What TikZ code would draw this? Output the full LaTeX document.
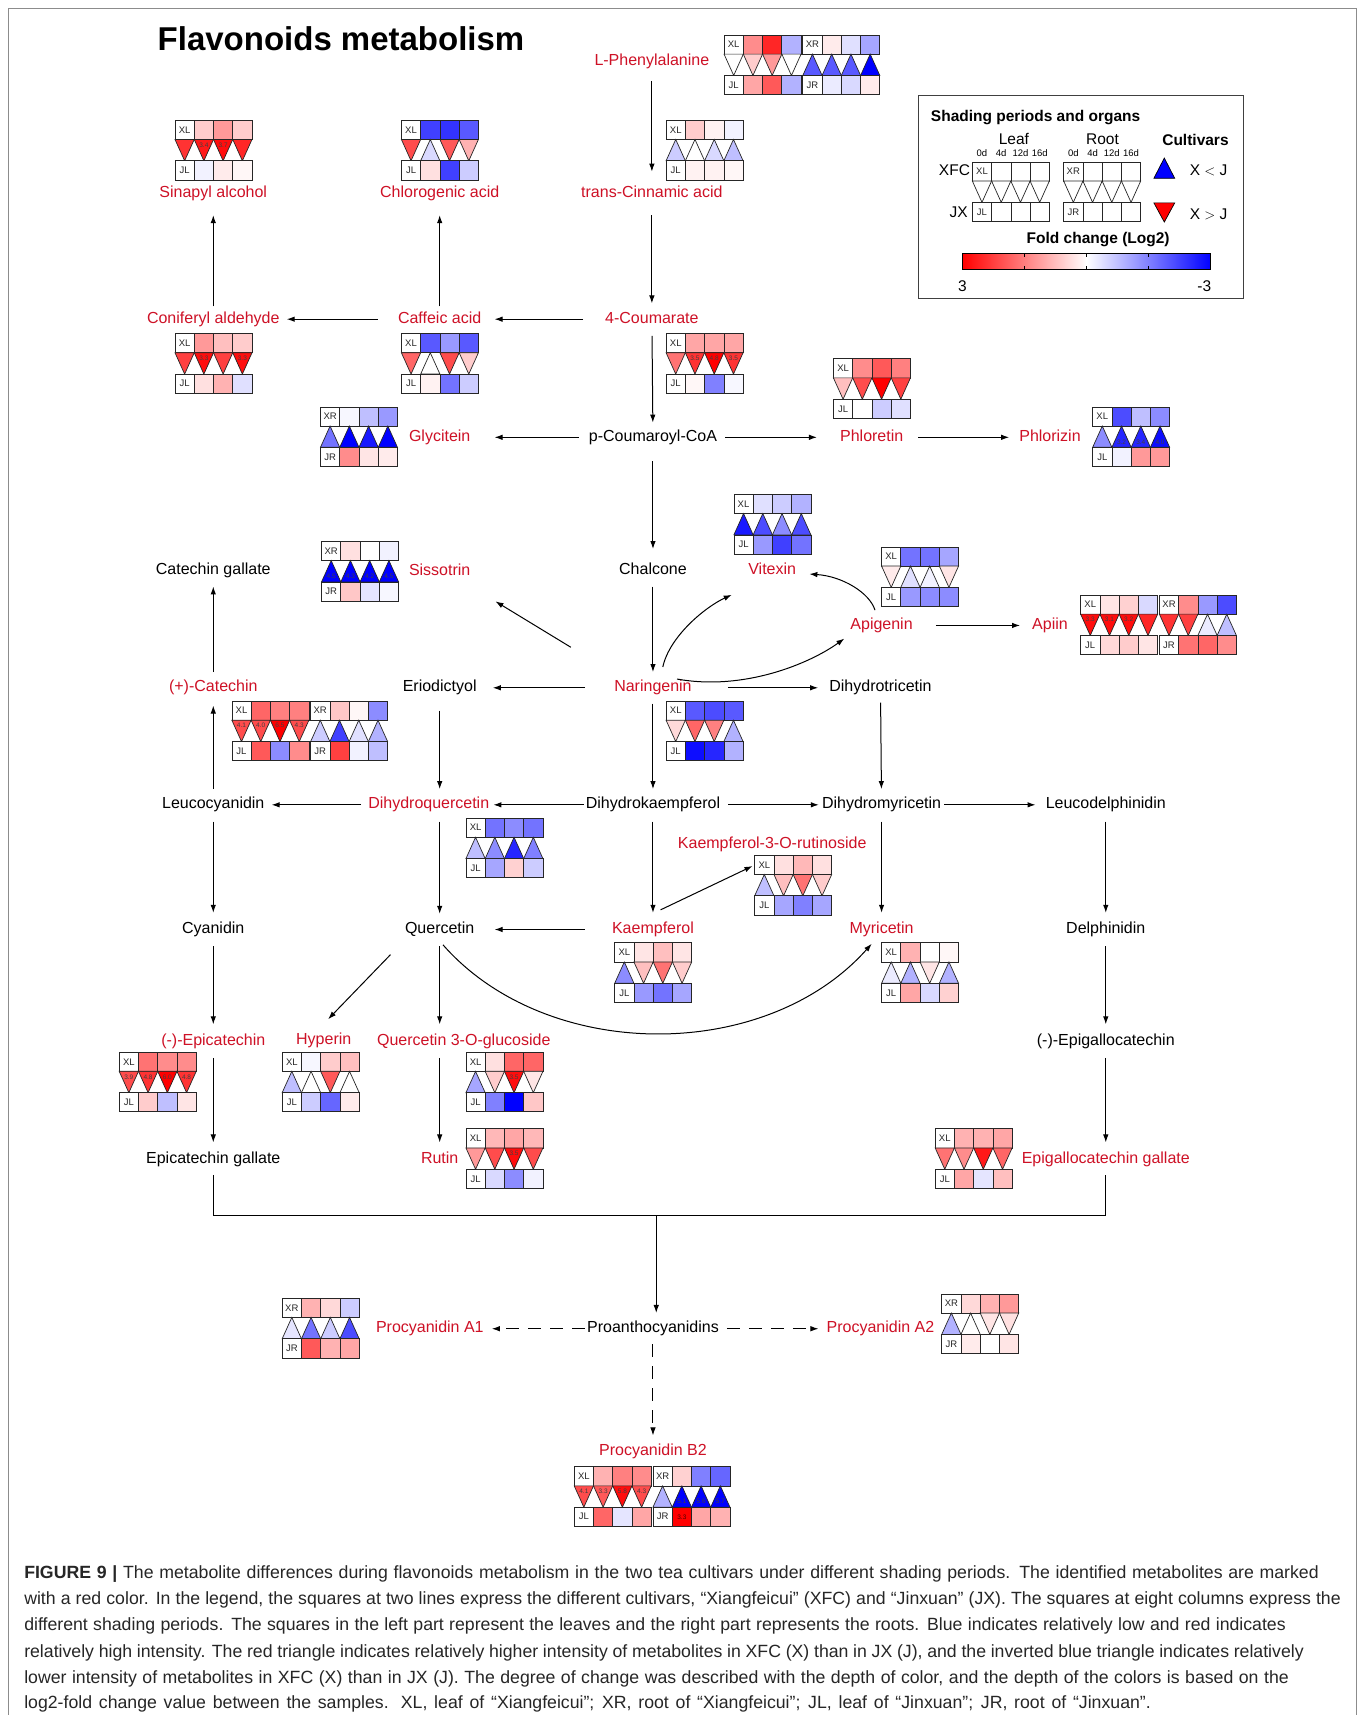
\documentclass[tikz,border=0pt]{standalone}
\usepackage{fontspec}
\setmainfont{Liberation Sans}
\usetikzlibrary{arrows.meta,calc}
\definecolor{labred}{RGB}{206,17,38}
\tikzset{
 cellst/.style={draw=black!85, line width=0.7pt},
 hlab/.style={font=\fontsize{9.5}{9.5}\selectfont, inner sep=0pt, text=black!85},
 hnum/.style={font=\fontsize{6.5}{6.5}\selectfont, inner sep=0pt, text=black!75},
 met/.style={font=\fontsize{16}{16}\selectfont, inner sep=0pt, text height=11.7pt, text depth=3.4pt, yshift=-2pt},
 idm/.style={met, text=labred},
 arr/.style={draw=black, line width=1pt, -{Latex[length=8pt,width=5.5pt]}, shorten <=9pt, shorten >=9pt},
 dsh/.style={dash pattern=on 13pt off 9pt},
 capt/.style={font=\fontsize{17.7}{17.7}\selectfont, inner sep=0pt, text=black!85},
 legt/.style={font=\fontsize{15.5}{15.5}\selectfont, inner sep=0pt},
}
% #1 position, #2 top label, #3 bottom label, #4 top colours, #5 triangles d|u/colour/number, #6 bottom colours
\newcommand\hmap[6]{%
\begin{scope}[shift={#1}]
 \draw[cellst,fill=white] (0,0) rectangle (17.6,17.5);
 \node[hlab] (hlt) at (8.8,8.75) {#2};
 \foreach \hc [count=\hi] in {#4} {\filldraw[cellst,fill=\hc] (\hi*17.6,0) rectangle ++(17.6,17.5);}
 \foreach \hd/\hc/\hn [count=\hi from 0] in {#5} {%
   \if u\hd
     \filldraw[cellst,fill=\hc] (\hi*17.6,37) -- ++(17.6,0) -- ++(-8.8,-19.5) -- cycle;
     \node[hnum] (hnm) at (\hi*17.6+8.8,32) {\hn};
   \else
     \filldraw[cellst,fill=\hc] (\hi*17.6,17.5) -- ++(17.6,0) -- ++(-8.8,19.5) -- cycle;
     \node[hnum] (hnm) at (\hi*17.6+8.8,22.5) {\hn};
   \fi}
 \draw[cellst,fill=white] (0,37) rectangle (17.6,54.5);
 \node[hlab] (hlb) at (8.8,45.75) {#3};
 \foreach \hc [count=\hi] in {#6} {\filldraw[cellst,fill=\hc] (\hi*17.6,37) rectangle ++(17.6,17.5);}
\end{scope}}

\begin{document}
\begin{tikzpicture}[x=1.0941pt, y=-1.0941pt]
\useasboundingbox (0,0) rectangle (1243,1568);
\fill[white] (0,0) rectangle (1243,1568);
\draw[black!45, line width=0.8pt] (8,1568) -- (8,8) -- (1240,8) -- (1240,1568);

% title
\node[anchor=west, inner sep=0pt, font=\bfseries\fontsize{33}{33}\selectfont] (title) at (144,35) {Flavonoids metabolism};

% ---------------- metabolites
\node[idm] (lphe) at (596,54) {L-Phenylalanine};
\node[idm] (tca) at (596,175) {trans-Cinnamic acid};
\node[idm] (sin) at (195,175) {Sinapyl alcohol};
\node[idm] (chl) at (402,175) {Chlorogenic acid};
\node[idm] (con) at (195,290) {Coniferyl aldehyde};
\node[idm] (caf) at (402,290) {Caffeic acid};
\node[idm] (cou) at (596,290) {4-Coumarate};
\node[met] (pcc) at (597,398) {p-Coumaroyl-CoA};
\node[idm] (gly) at (402,398) {Glycitein};
\node[idm] (phl) at (797,398) {Phloretin};
\node[idm] (phz) at (960,398) {Phlorizin};
\node[met] (cha) at (597,520) {Chalcone};
\node[met] (cg) at (195,520) {Catechin gallate};
\node[idm] (sis) at (402,521) {Sissotrin};
\node[idm] (vit) at (706,520) {Vitexin};
\node[idm] (api) at (806,570) {Apigenin};
\node[idm] (apn) at (960,570) {Apiin};
\node[idm] (cat) at (195,627) {(+)-Catechin};
\node[met] (eri) at (402,627) {Eriodictyol};
\node[idm] (nar) at (597,627) {Naringenin};
\node[met] (dht) at (805,627) {Dihydrotricetin};
\node[met] (leu) at (195,734) {Leucocyanidin};
\node[idm] (dhq) at (392,734) {Dihydroquercetin};
\node[met] (dhk) at (597,734) {Dihydrokaempferol};
\node[met] (dhm) at (806,734) {Dihydromyricetin};
\node[met] (led) at (1011,734) {Leucodelphinidin};
\node[idm] (k3r) at (706,770) {Kaempferol-3-O-rutinoside};
\node[met] (cya) at (195,848) {Cyanidin};
\node[met] (que) at (402,848) {Quercetin};
\node[idm] (kae) at (597,848) {Kaempferol};
\node[idm] (myr) at (806,848) {Myricetin};
\node[met] (del) at (1011,848) {Delphinidin};
\node[idm] (epi) at (195,950) {(-)-Epicatechin};
\node[idm] (hyp) at (296,949) {Hyperin};
\node[idm] (q3g) at (424,950) {Quercetin 3-O-glucoside};
\node[met] (egc) at (1011,950) {(-)-Epigallocatechin};
\node[met] (ecg) at (195,1058) {Epicatechin gallate};
\node[idm] (rut) at (402,1058) {Rutin};
\node[idm] (egcg) at (1011,1058) {Epigallocatechin gallate};
\node[met] (pro) at (597,1213) {Proanthocyanidins};
\node[idm] (pa1) at (393,1213) {Procyanidin A1};
\node[idm] (pa2) at (805,1213) {Procyanidin A2};
\node[idm] (pb2) at (597,1325) {Procyanidin B2};

% ---------------- connectors (vertical)
\draw[arr, shorten <=12pt, shorten >=14pt] (lphe) -- (tca);
\draw[arr, shorten <=14pt, shorten >=8pt] (tca) -- (cou);
\draw[arr, shorten <=9pt, shorten >=7pt] (cou) -- (pcc);
\draw[arr, shorten <=16pt, shorten >=14pt] (pcc) -- (cha);
\draw[arr, shorten <=8pt, shorten >=8pt] (cha) -- (nar);
\draw[arr, shorten <=8pt, shorten >=8pt] (nar) -- (dhk);
\draw[arr, shorten <=15pt, shorten >=8pt] (eri) -- (eri |- dhq.north);
\draw[arr, shorten <=7pt, shorten >=8pt] (dht) -- (dhm);
\draw[arr, shorten <=5pt, shorten >=14pt] (caf) -- (chl);
\draw[arr, shorten <=5pt, shorten >=14pt] (con) -- (sin);
\draw[arr, shorten <=8pt, shorten >=8pt] (cat) -- (cg);
\draw[arr, shorten <=8pt, shorten >=10pt] (leu) -- (cat);
\draw[arr, shorten <=9pt, shorten >=8pt] (que |- dhq.south) -- (que);
\draw[arr] (dhk) -- (kae);
\draw[arr] (dhm) -- (myr);
\draw[arr] (led) -- (del);
\draw[arr] (leu) -- (cya);
\draw[arr] (cya) -- (epi);
\draw[arr] (del) -- (egc);
\draw[arr] (que) -- (que |- q3g.north);
\draw[arr] (epi) -- (ecg);
\draw[arr] (egc) -- (egcg);
\draw[arr] (rut |- q3g.south) -- (rut);

% ---------------- connectors (horizontal)
\draw[arr, shorten <=22pt, shorten >=13pt] (cou) -- (caf);
\draw[arr, shorten <=20pt, shorten >=7pt] (caf) -- (con);
\draw[arr, shorten <=10pt, shorten >=24pt] (pcc) -- (gly);
\draw[arr, shorten <=8pt, shorten >=23pt] (pcc) -- (phl);
\draw[arr, shorten <=15pt, shorten >=10pt] (phl) -- (phz);
\draw[arr, shorten <=23pt, shorten >=12pt] (api) -- (apn);
\draw[arr, shorten <=29pt, shorten >=16pt] (nar) -- (eri);
\draw[arr, shorten <=36pt, shorten >=11pt] (nar) -- (dht);
\draw[arr, shorten <=7pt, shorten >=7pt] (dhq) -- (leu);
\draw[arr, shorten <=2pt, shorten >=4pt] (dhk) -- (dhq);
\draw[arr, shorten <=8pt, shorten >=3pt] (dhk) -- (dhm);
\draw[arr, shorten <=3pt, shorten >=10pt] (dhm) -- (led);
\draw[arr, shorten <=27pt, shorten >=20pt] (kae) -- (que);
\draw[arr, dsh, shorten <=2pt, shorten >=8pt] (pro) -- (pa1);
\draw[arr, dsh, shorten <=8pt, shorten >=8pt] (pro) -- (pa2);
\draw[arr, dsh, shorten <=8pt, shorten >=8pt] (pro) -- (pb2);

% ---------------- diagonal and curved connectors
\draw[arr, shorten <=0pt, shorten >=0pt] ($(nar)+(-75,-37)$) -- ($(sis)+(51,27)$);
\draw[arr, shorten <=0pt, shorten >=0pt] ($(kae)+(7,-18)$) -- ($(k3r)+(-18,20)$);
\draw[arr, shorten <=0pt, shorten >=0pt] ($(que)+(-45,23)$) -- ($(hyp)+(4,-19)$);
\draw[arr, shorten <=0pt, shorten >=0pt] ($(nar)+(9,-19)$) .. controls ($(nar)+(15,-47)$) and ($(nar)+(48,-74)$) .. ($(vit)+(-37,22)$);
\draw[arr, shorten <=0pt, shorten >=0pt] ($(nar)+(22,-8)$) .. controls ($(nar)+(83,3)$) and ($(api)+(-66,35)$) .. ($(api)+(-34,12)$);
\draw[arr, shorten <=0pt, shorten >=0pt] ($(api)+(-6,-14)$) .. controls ($(api)+(-11,-30)$) and ($(vit)+(64,5)$) .. ($(vit)+(34,3)$);
\draw[arr, shorten <=0pt, shorten >=0pt] ($(que)+(3,14)$) .. controls ($(que)+(98,122)$) and ($(myr)+(-106,122)$) .. ($(myr)+(-9,13)$);

% bracket to proanthocyanidins
\coordinate (jn) at (600,1111);
\draw[line width=1pt, shorten <=8pt, shorten >=8pt] (ecg) -- (ecg |- jn) -- (egcg |- jn) -- (egcg);
\draw[arr, shorten <=0pt, shorten >=8pt] (jn) -- (jn |- pro.north);

% ---------------- heatmaps
\hmap{(662,32)}{XL}{JL}{red!45,red!85,blue!30}{d/white/{},d/red!20/{},d/red!40/{},d/white/{}}{red!35,red!65,blue!30}
\hmap{(734,32)}{XR}{JR}{red!8,blue!12,blue!35}{u/blue!65/{},u/blue!65/{},u/blue!65/{},u/blue!100/{}}{blue!8,blue!15,red!8}
\hmap{(160,110)}{XL}{JL}{red!20,red!40,red!20}{d/red!80/{},d/red!90/3.4,d/red!95/3.7,d/red!85/{}}{blue!5,red!8,red!3}
\hmap{(367,110)}{XL}{JL}{blue!75,blue!80,blue!65}{d/red!70/{},u/blue!15/{},d/red!65/{},d/red!30/{}}{red!12,blue!75,blue!20}
\hmap{(609,110)}{XL}{JL}{red!20,red!5,blue!5}{u/blue!20/{},u/white/{},u/blue!15/{},u/blue!25/{}}{red!5,red!5,red!3}
\hmap{(160,305)}{XL}{JL}{red!40,red!25,red!20}{d/red!75/{},d/red!95/3.3,d/red!75/{},d/red!95/3.3}{red!12,red!30,blue!12}
\hmap{(367,305)}{XL}{JL}{blue!65,blue!40,blue!65}{d/red!60/{},u/white/{},d/red!70/{},d/red!20/{}}{red!5,blue!55,blue!20}
\hmap{(609,305)}{XL}{JL}{red!35,red!35,red!35}{d/red!55/{},d/red!80/3.5,d/red!100/4.8,d/red!80/3.5}{red!3,blue!50,blue!3}
\hmap{(762,328)}{XL}{JL}{red!45,red!65,red!50}{d/red!25/{},d/red!70/{},d/red!100/{},d/red!75/{}}{white,blue!20,blue!12}
\hmap{(293,372)}{XR}{JR}{blue!3,blue!25,blue!40}{u/blue!55/{},u/blue!100/{},u/blue!90/{},u/blue!100/{}}{red!45,red!10,red!8}
\hmap{(999,372)}{XL}{JL}{blue!70,blue!25,blue!45}{u/blue!45/{},u/blue!85/3.2,u/blue!85/3.4,u/blue!95/4.0}{blue!5,red!40,red!40}
\hmap{(671,452)}{XL}{JL}{blue!12,blue!20,blue!30}{u/blue!90/{},u/blue!70/{},u/blue!45/{},u/blue!70/{}}{blue!40,blue!75,blue!55}
\hmap{(294,495)}{XR}{JR}{red!12,white,blue!5}{u/blue!100/4.5,u/blue!100/4.3,u/blue!100/4.2,u/blue!100/4.5}{red!22,blue!10,blue!3}
\hmap{(806,500)}{XL}{JL}{blue!55,blue!55,blue!35}{d/red!8/{},u/blue!12/{},u/blue!5/{},d/red!10/{}}{blue!40,blue!45,blue!45}
\hmap{(988,544)}{XL}{JL}{red!10,red!18,blue!15}{d/red!95/3.3,d/red!95/3.1,d/red!95/3.2,d/red!85/{}}{red!15,red!20,red!10}
\hmap{(1060,544)}{XR}{JR}{red!45,blue!40,blue!70}{d/red!80/{},d/red!75/{},u/blue!8/{},u/blue!25/{}}{red!55,red!60,red!45}
\hmap{(212,641)}{XL}{JL}{red!60,red!50,red!50}{d/red!70/4.1,d/red!70/4.0,d/red!100/6.5,d/red!70/4.3}{red!65,blue!45,red!45}
\hmap{(284,641)}{XR}{JR}{red!22,red!3,blue!45}{u/blue!20/{},u/blue!75/{},u/blue!12/{},u/blue!30/{}}{red!75,blue!5,blue!25}
\hmap{(609,641)}{XL}{JL}{blue!65,blue!70,blue!65}{d/red!15/{},d/red!60/{},d/red!50/{},u/blue!30/{}}{blue!95,blue!85,blue!30}
\hmap{(426,748)}{XL}{JL}{blue!55,blue!45,blue!55}{u/blue!25/{},u/blue!45/{},u/blue!85/{},u/blue!50/{}}{blue!35,red!18,blue!20}
\hmap{(690,782)}{XL}{JL}{red!12,red!28,red!12}{u/blue!25/{},d/red!25/{},d/red!55/{},d/red!20/{}}{blue!35,blue!50,blue!35}
\hmap{(562,862)}{XL}{JL}{red!10,red!25,red!10}{u/blue!45/{},d/red!25/{},d/red!55/{},d/red!20/{}}{blue!40,blue!55,blue!35}
\hmap{(806,862)}{XL}{JL}{red!30,white,red!3}{u/blue!8/{},u/blue!30/{},d/red!10/{},u/blue!30/{}}{red!35,blue!15,red!18}
\hmap{(109,962)}{XL}{JL}{red!55,red!45,red!45}{d/red!70/3.9,d/red!80/4.8,d/red!100/6.0,d/red!80/4.8}{red!20,blue!25,red!10}
\hmap{(258,962)}{XL}{JL}{blue!3,red!20,red!25}{u/blue!25/{},u/white/{},d/red!65/{},u/white/{}}{blue!20,blue!60,red!8}
\hmap{(426,962)}{XL}{JL}{red!12,red!60,red!60}{u/blue!35/{},d/red!20/{},d/red!95/3.5,d/red!10/{}}{blue!50,blue!100,red!22}
\hmap{(426,1032)}{XL}{JL}{red!28,red!35,red!28}{d/red!40/{},d/red!70/{},d/red!95/3.5,d/red!70/{}}{blue!15,blue!45,blue!5}
\hmap{(855,1032)}{XL}{JL}{red!30,red!30,red!35}{d/red!55/{},d/red!45/{},d/red!90/{},d/red!60/{}}{red!35,blue!10,red!25}
\hmap{(258,1187)}{XR}{JR}{red!30,red!15,blue!20}{u/blue!10/{},u/blue!55/{},u/blue!20/{},u/blue!70/{}}{red!65,red!30,red!35}
\hmap{(861,1183)}{XR}{JR}{red!15,red!30,red!40}{u/blue!30/{},u/white/{},d/red!10/{},d/red!12/{}}{red!8,white,red!10}
\hmap{(525,1341)}{XL}{JL}{red!30,red!50,red!45}{d/red!70/4.1,d/red!65/3.3,d/red!95/5.8,d/red!70/4.3}{red!60,blue!10,red!35}
\hmap{(597,1341)}{XR}{JR}{red!18,blue!50,blue!60}{u/blue!30/{},u/blue!100/5.1,u/blue!100/5.6,u/blue!100/5.7}{red!100,red!35,red!30}
\node[hnum, text=black!70!red] (b2n) at (623.4,1386.75) {3.3};

% ---------------- legend
\draw[line width=1.2pt, draw=black!75] (840,87) rectangle (1137,273);
\node[anchor=west, inner sep=0pt, font=\bfseries\fontsize{15.5}{15.5}\selectfont] (lgt) at (851,107) {Shading periods and organs};
\node[legt] (lleaf) at (927,127) {Leaf};
\node[legt] (lroot) at (1008,127) {Root};
\foreach \t [count=\k from 0] in {0d,4d,12d,16d} {
  \node[inner sep=0pt, font=\fontsize{9.5}{9.5}\selectfont] (dl\k) at (897.8+\k*17.6,140) {\t};
  \node[inner sep=0pt, font=\fontsize{9.5}{9.5}\selectfont] (dr\k) at (981.3+\k*17.6,140) {\t};
}
\hmap{(889,148)}{XL}{JL}{white,white,white}{d/white/{},d/white/{},d/white/{},d/white/{}}{white,white,white}
\hmap{(972.5,148)}{XR}{JR}{white,white,white}{d/white/{},d/white/{},d/white/{},d/white/{}}{white,white,white}
\node[legt, anchor=east] (lxfc) at (887,156) {XFC};
\node[legt, anchor=east] (ljx) at (885,194) {JX};
\node[inner sep=0pt, font=\bfseries\fontsize{15.5}{15.5}\selectfont] (lcul) at (1093,128) {Cultivars};
\filldraw[fill=blue, draw=black, line width=0.7pt] (1055,163) -- (1074,163) -- (1064.5,144.5) -- cycle;
\node[legt] (llt) at (1105,156) {X $<$ J};
\filldraw[fill=red, draw=black, line width=0.7pt] (1055,185.5) -- (1074,185.5) -- (1064.5,203) -- cycle;
\node[legt] (lgt2) at (1105,196) {X $>$ J};
\node[inner sep=0pt, font=\bfseries\fontsize{15.5}{15.5}\selectfont] (lfc) at (1004,219) {Fold change (Log2)};
\shade[left color=red, right color=white] (880,232) rectangle (993.5,246);
\shade[left color=white, right color=blue] (993.5,232) rectangle (1107,246);
\draw[line width=0.8pt] (880,232) rectangle (1107,246);
\foreach \tx in {937,993.5,1050} {\draw[line width=0.8pt] (\tx,232) -- ++(0,3); \draw[line width=0.8pt] (\tx,246) -- ++(0,-3);}
\node[legt] (l3) at (880,262) {3};
\node[legt] (lm3) at (1101,262) {-3};

% ---------------- caption
\node[capt, anchor=base west] (cap1) at (22,1443) {\makebox[1295pt][s]{\textbf{FIGURE 9 |} The metabolite differences during flavonoids metabolism in the two tea cultivars under different shading periods. The identified metabolites are marked}};
\node[capt, anchor=base west] (cap2) at (22,1467) {\makebox[1317pt][s]{with a red color. In the legend, the squares at two lines express the different cultivars, “Xiangfeicui” (XFC) and “Jinxuan” (JX). The squares at eight columns express the}};
\node[capt, anchor=base west] (cap3) at (22,1491) {\makebox[1262pt][s]{different shading periods. The squares in the left part represent the leaves and the right part represents the roots. Blue indicates relatively low and red indicates}};
\node[capt, anchor=base west] (cap4) at (22,1515) {\makebox[1280pt][s]{relatively high intensity. The red triangle indicates relatively higher intensity of metabolites in XFC (X) than in JX (J), and the inverted blue triangle indicates relatively}};
\node[capt, anchor=base west] (cap5) at (22,1539) {\makebox[1265pt][s]{lower intensity of metabolites in XFC (X) than in JX (J). The degree of change was described with the depth of color, and the depth of the colors is based on the}};
\node[capt, anchor=base west] (cap6) at (22,1562) {\makebox[1127pt][s]{log2-fold change value between the samples. XL, leaf of “Xiangfeicui”; XR, root of “Xiangfeicui”; JL, leaf of “Jinxuan”; JR, root of “Jinxuan”.}};
\end{tikzpicture}
\end{document}
